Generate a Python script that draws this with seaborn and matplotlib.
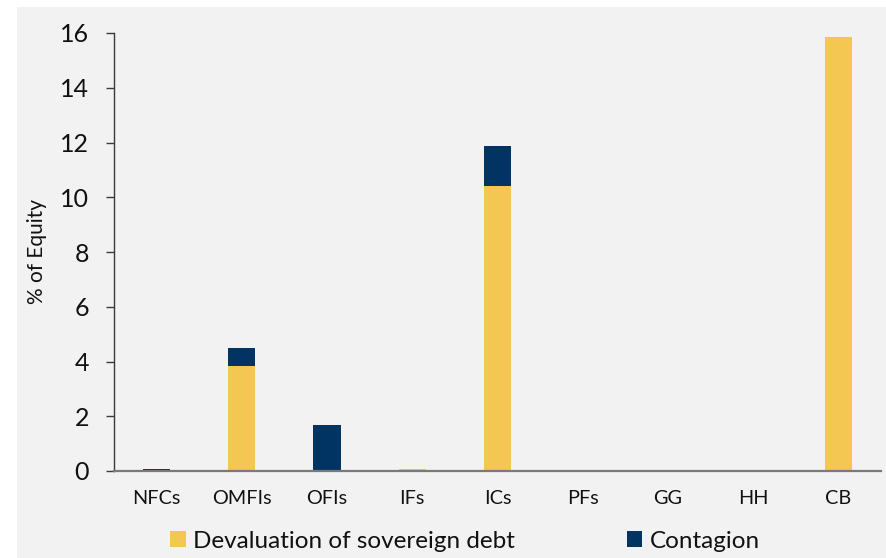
import matplotlib
matplotlib.use("Agg")
import matplotlib.pyplot as plt
from matplotlib.patches import Rectangle, Patch
import seaborn as sns
import pandas as pd

sectors = ["NFCs", "OMFIs", "OFIs", "IFs", "ICs", "PFs", "GG", "HH", "CB"]
devaluation = [0.0, 3.85, 0.0, 0.07, 10.4, 0.0, 0.0, 0.0, 15.85]
contagion = [0.07, 0.65, 1.67, 0.0, 1.47, 0.0, 0.0, 0.0, 0.0]

yellow = "#f3c752"
navy = "#013462"
bg = "#f2f2f2"

df = pd.DataFrame({
    "sector": sectors,
    "devaluation": devaluation,
    "total": [d + c for d, c in zip(devaluation, contagion)],
})

sns.set_theme(style="white")
plt.rcParams["font.family"] = ["Lato", "DejaVu Sans"]

fig = plt.figure(figsize=(8.87, 5.58), dpi=100, facecolor="white")
fig.patches.append(Rectangle((17 / 887, 0), 1 - 17 / 887, 1 - 7 / 558,
                             transform=fig.transFigure, facecolor=bg,
                             edgecolor="none", zorder=-10))
ax = fig.add_axes([114 / 887, 1 - 471 / 558, (881 - 114) / 887, (471 - 33) / 558])
ax.set_facecolor(bg)

# stacked bars: total height in navy, sovereign-debt part drawn over it
sns.barplot(data=df, x="sector", y="total", color=navy, width=0.32,
            saturation=1, linewidth=0, ax=ax)
sns.barplot(data=df, x="sector", y="devaluation", color=yellow, width=0.32,
            saturation=1, linewidth=0, ax=ax)

ax.set_xlim(-0.5, 8.5)
ax.set_ylim(0, 16)
ax.set_yticks(range(0, 17, 2))
ax.set_xlabel("")
ax.set_ylabel("% of Equity", fontsize=15, color="#111111")
ax.yaxis.set_label_coords(-0.0874, 0.5)

for side in ["top", "right"]:
    ax.spines[side].set_visible(False)
ax.spines["left"].set_color("#3a3a3a")
ax.spines["left"].set_linewidth(1.0)
ax.spines["bottom"].set_color("#7a7a7a")
ax.spines["bottom"].set_linewidth(1.6)

ax.tick_params(axis="y", which="both", left=True, direction="out", length=5.5,
               width=1.0, color="#3a3a3a", pad=12.5, labelsize=18,
               labelcolor="#111111")
ax.tick_params(axis="x", bottom=False, length=0, pad=14, labelsize=14.3,
               labelcolor="#111111")

handles = [Patch(facecolor=yellow, edgecolor="none", label="Devaluation of sovereign debt"),
           Patch(facecolor=navy, edgecolor="none", label="Contagion")]
fig.legend(handles=handles, loc="center", bbox_to_anchor=(0.524, 0.030), ncol=2,
           frameon=False, fontsize=17.5, handlelength=0.65, handleheight=0.65,
           handletextpad=0.3, columnspacing=4.6, borderpad=0, labelcolor="#111111")

fig.savefig("out.png", dpi=100, facecolor="white")
